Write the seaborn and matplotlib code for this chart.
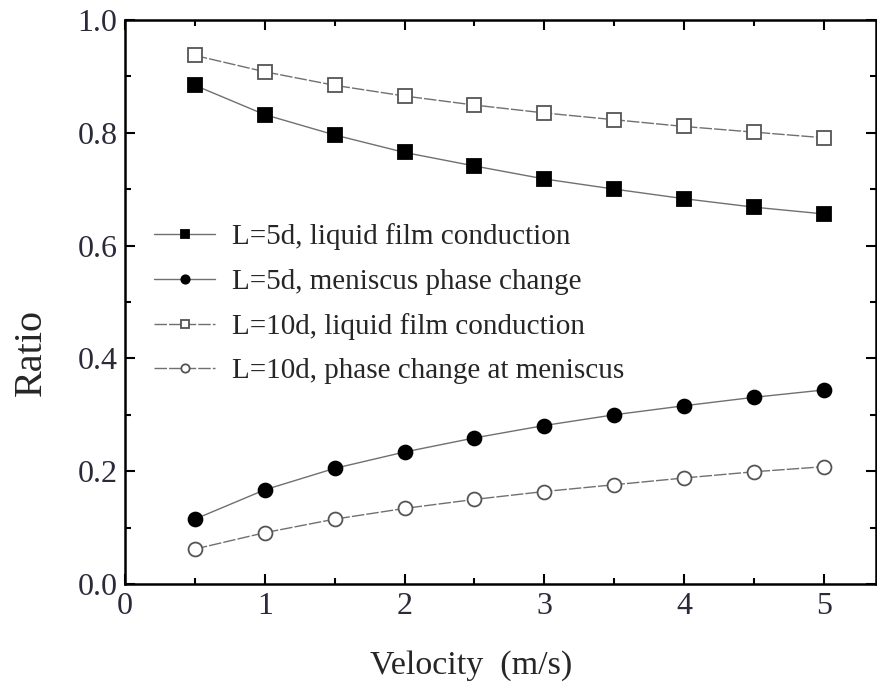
import matplotlib
matplotlib.use("Agg")
import matplotlib.pyplot as plt
import seaborn as sns
import pandas as pd
from matplotlib.ticker import MultipleLocator

velocity = [0.5, 1.0, 1.5, 2.0, 2.5, 3.0, 3.5, 4.0, 4.5, 5.0]
film_5d = [0.884, 0.832, 0.796, 0.765, 0.741, 0.718, 0.700, 0.683, 0.668, 0.656]
meniscus_5d = [0.115, 0.167, 0.205, 0.234, 0.259, 0.281, 0.300, 0.316, 0.331, 0.344]
film_10d = [0.937, 0.908, 0.884, 0.865, 0.849, 0.835, 0.823, 0.811, 0.801, 0.791]
meniscus_10d = [0.062, 0.091, 0.115, 0.134, 0.150, 0.164, 0.176, 0.188, 0.199, 0.208]

labels = ["L=5d, liquid film conduction", "L=5d, meniscus phase change",
          "L=10d, liquid film conduction", "L=10d, phase change at meniscus"]
x_ticks = [0, 1, 2, 3, 4, 5]
x_ticklabels = ["0", "1", "2", "3", "4", "5"]
y_ticks = [0.0, 0.2, 0.4, 0.6, 0.8, 1.0]
y_ticklabels = ["0.0", "0.2", "0.4", "0.6", "0.8", "1.0"]

sns.set_theme(style="ticks")
plt.rcParams["font.family"] = ["Liberation Serif", "DejaVu Serif"]

fig = plt.figure(figsize=(8.77, 6.85), dpi=100)
ax = fig.add_axes([0.1425, 0.1474, 0.856, 0.8236])

styles = [
    ("s", "black", "black", "-"),
    ("o", "black", "black", "-"),
    ("s", "white", "#555555", (0, (9, 1.5))),
    ("o", "white", "#555555", (0, (9, 1.5))),
]
for vals, lab, (mk, fc, ec, ls) in zip([film_5d, meniscus_5d, film_10d, meniscus_10d], labels, styles):
    df = pd.DataFrame({"v": velocity, "r": vals})
    sns.lineplot(data=df, x="v", y="r", ax=ax, color="#707070", linewidth=1.0,
                 linestyle=ls, marker=mk, markersize=10, markerfacecolor=fc,
                 markeredgecolor=ec, markeredgewidth=1.3, label=lab)

ax.set_xlim(0, 5.37)
ax.set_ylim(0, 1.0)
ax.xaxis.set_minor_locator(MultipleLocator(0.5))
ax.yaxis.set_minor_locator(MultipleLocator(0.1))
ax.set_xticks(x_ticks)
ax.set_xticklabels(x_ticklabels)
ax.set_yticks(y_ticks)
ax.set_yticklabels(y_ticklabels)
ax.tick_params(which="both", direction="in", top=True, right=True, width=1.5, colors="black")
ax.tick_params(which="major", length=7, labelsize=23, pad=5.5, labelcolor="#2a2a3a")
ax.tick_params(which="minor", length=4)
for s in ax.spines.values():
    s.set_linewidth(1.8)
    s.set_color("black")

ax.set_xlabel("Velocity  (m/s)", fontsize=24.5)
ax.xaxis.set_label_coords(0.461, -0.117)
ax.set_ylabel("Ratio", fontsize=29)
ax.yaxis.set_label_coords(-0.10, 0.411)

leg = ax.legend(loc="upper left", bbox_to_anchor=(0.023, 0.66), frameon=False, fontsize=21,
                markerscale=0.6, handlelength=2.1, handletextpad=0.58, labelspacing=0.62,
                borderaxespad=0)

fig.savefig("out.png", dpi=100)
